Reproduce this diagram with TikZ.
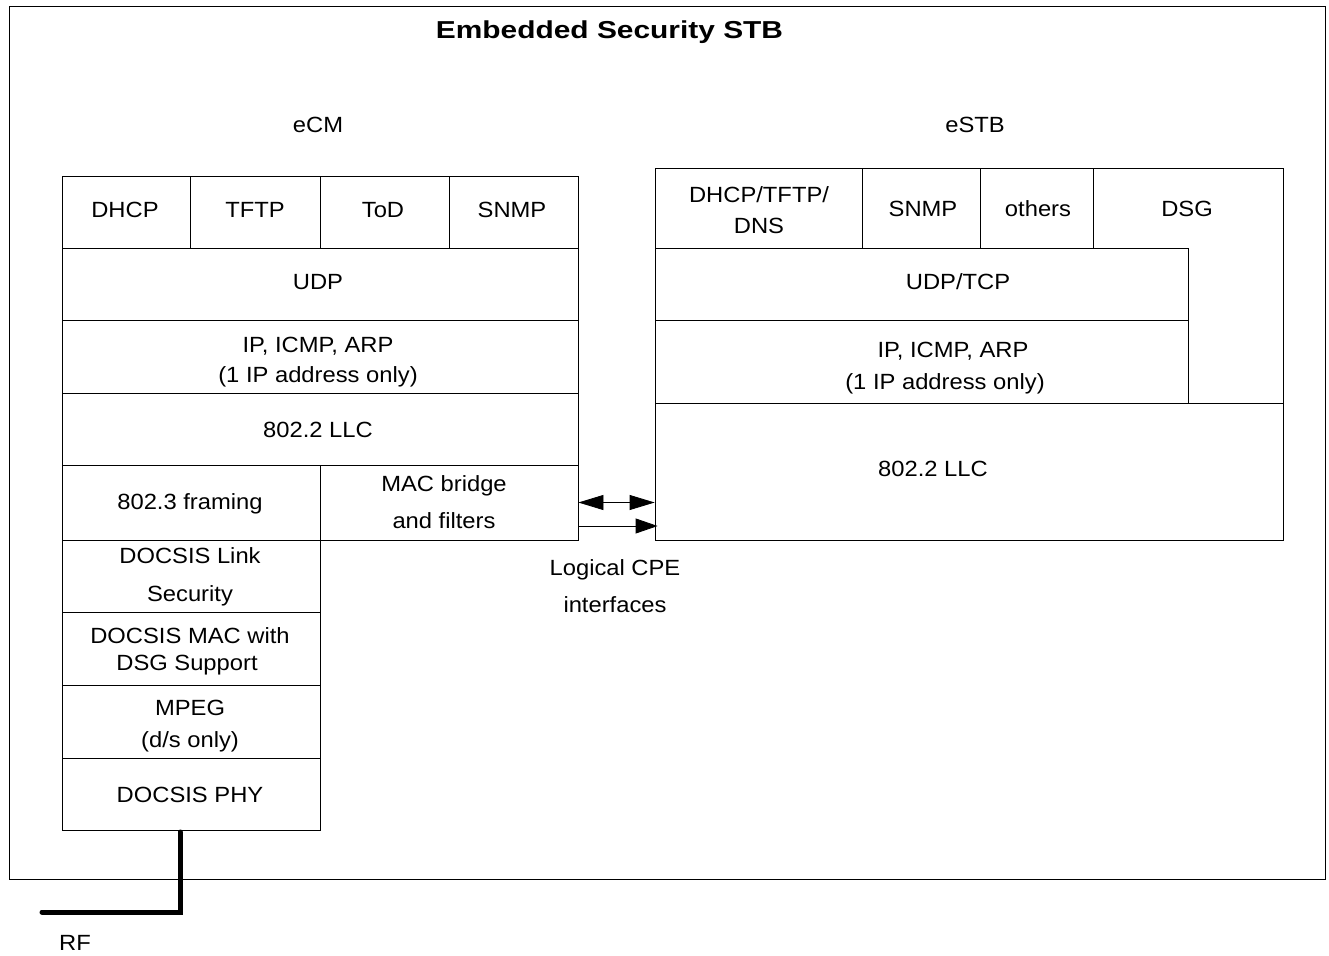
\documentclass[tikz,border=0pt]{standalone}
\usepackage{fontspec}
\setmainfont[FakeStretch=1.08]{Liberation Sans}
\newfontfamily\titlefont[FakeStretch=1.22]{Liberation Sans}
\usetikzlibrary{fit,arrows.meta}
\begin{document}
\begin{tikzpicture}[x=1pt,y=-1pt,
  cell/.style={draw,line width=0.8pt,inner sep=0pt},
  lbl/.style={font=\fontsize{22pt}{26pt}\selectfont,text height=15.7pt,text depth=0pt,inner sep=0pt,anchor=center},
  ttl/.style={font=\titlefont\bfseries\fontsize{24.5pt}{28pt}\selectfont,text height=17.5pt,text depth=0pt,inner sep=0pt},
  thin/.style={line width=0.8pt},
  arr/.style={line width=0.8pt,-{Triangle[length=22pt,width=15pt]}},
  darr/.style={line width=0.8pt,{Triangle[length=25pt,width=15pt]}-{Triangle[length=25pt,width=15pt]}},
  rf/.style={line width=5pt,line cap=round,line join=miter}]
\useasboundingbox (0,0) rectangle (1329,955);
% outer frame
\node[cell,fit={(9,6) (1325,879)}] (frame) {};
\node[ttl] (title) at (609.5,29.5) {Embedded Security STB};
\node[lbl] (ecm) at (318,125) {eCM};
\node[lbl] (estb) at (975,125) {eSTB};
% left stack
\node[cell,fit={(62,176) (190,248)}] (dhcpL) {};
\node[cell,fit={(190,176) (320,248)}] (tftpL) {};
\node[cell,fit={(320,176) (449,248)}] (todL) {};
\node[cell,fit={(449,176) (578,248)}] (snmpL) {};
\node[cell,fit={(62,248) (578,320)}] (udpL) {};
\node[cell,fit={(62,320) (578,393)}] (ipL) {};
\node[cell,fit={(62,393) (578,465)}] (llcL) {};
\node[cell,fit={(62,465) (320,540)}] (fram) {};
\node[cell,fit={(320,465) (578,540)}] (macb) {};
\node[cell,fit={(62,540) (320,612)}] (dls) {};
\node[cell,fit={(62,612) (320,685)}] (dmac) {};
\node[cell,fit={(62,685) (320,758)}] (mpeg) {};
\node[cell,fit={(62,758) (320,830)}] (phy) {};
\node[lbl] at (125,210) {DHCP};
\node[lbl] at (255,210) {TFTP};
\node[lbl] at (383,210) {ToD};
\node[lbl] at (512,210) {SNMP};
\node[lbl] at (318,282) {UDP};
\node[lbl] at (318,345) {IP, ICMP, ARP};
\node[lbl] at (318,375) {(1 IP address only)};
\node[lbl] at (318,430) {802.2 LLC};
\node[lbl] at (190,502) {802.3 framing};
\node[lbl] at (444,484) {MAC bridge};
\node[lbl] at (444,521) {and filters};
\node[lbl] at (190,556) {DOCSIS Link};
\node[lbl] at (190,594) {Security};
\node[lbl] at (190,636) {DOCSIS MAC with};
\node[lbl] at (187,663) {DSG Support};
\node[lbl] at (190,708) {MPEG};
\node[lbl] at (190,740) {(d/s only)};
\node[lbl] at (190,795) {DOCSIS PHY};
% right stack
\node[cell,fit={(655,168) (862,248)}] (dhcpR) {};
\node[cell,fit={(862,168) (980,248)}] (snmpR) {};
\node[cell,fit={(980,168) (1093,248)}] (othR) {};
\node[cell,fit={(655,248) (1188,320)}] (udpR) {};
\node[cell,fit={(655,320) (1188,403)}] (ipR) {};
\node[cell,fit={(655,403) (1283,540)}] (llcR) {};
\draw[thin] (1093,168) -- (1283,168) -- (1283,403) -- (1188,403) -- (1188,248) -- (1093,248) -- cycle;
\node[lbl] at (759,195) {DHCP/TFTP/};
\node[lbl] at (759,226) {DNS};
\node[lbl] at (923,209) {SNMP};
\node[lbl] at (1038,209) {others};
\node[lbl] (dsg) at (1187,209) {DSG};
\node[lbl] at (958,282) {UDP/TCP};
\node[lbl] at (953,350) {IP, ICMP, ARP};
\node[lbl] at (945,382) {(1 IP address only)};
\node[lbl] at (933,469) {802.2 LLC};
% interfaces
\draw[darr] (macb.east) -- (llcR.west |- macb.east);
\coordinate (a2s) at ([yshift=-23.5pt]macb.east);
\coordinate (a2e) at ([xshift=3pt]llcR.west |- a2s);
\draw[arr] (a2s) -- (a2e);
\node[lbl] (lcpe) at (615,568) {Logical CPE};
\node[lbl] (lint) at (615,605) {interfaces};
% RF
\coordinate (rfTop) at (180,832);
\coordinate (rfEnd) at (42,912);
\draw[rf] (rfTop) |- (rfEnd);
\node[lbl] (rf) at (75,943) {RF};
\end{tikzpicture}
\end{document}
